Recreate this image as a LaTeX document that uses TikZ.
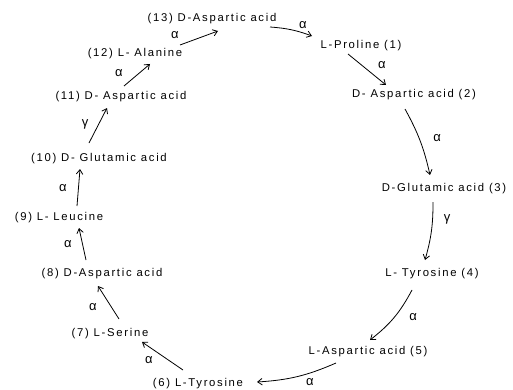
\documentclass[tikz,border=0pt]{standalone}
\usepackage{fontspec}
\setmainfont[LetterSpace=15]{Liberation Sans}
\usetikzlibrary{arrows.meta,calc}
\begin{document}
\begin{tikzpicture}[x=1pt,y=1pt,
  lbl/.style={font=\fontsize{11.3}{13}\selectfont, text height=8pt, text depth=0pt, inner sep=0pt},
  gk/.style={font=\fontsize{13}{15}\selectfont, inner sep=0pt},
  conn/.style={line width=0.8pt, -{Straight Barb[length=4.5pt,width=6.5pt]}}]
\useasboundingbox (0,0) rectangle (513,389);
% nodes
\node[lbl] (n13) at (212,371) {(13) D-Aspartic acid};
\node[lbl] (n1)  at (361,344) {L-Proline (1)};
\node[lbl] (n2)  at (414,295) {D- Aspartic acid (2)};
\node[lbl] (n3)  at (444,202) {D-Glutamic acid (3)};
\node[lbl] (n4)  at (432,117) {L- Tyrosine (4)};
\node[lbl] (n5)  at (368,39)  {L-Aspartic acid (5)};
\node[lbl] (n6)  at (198,7)   {(6) L-Tyrosine};
\node[lbl] (n7)  at (110,57)  {(7) L-Serine};
\node[lbl] (n8)  at (102,117) {(8) D-Aspartic acid};
\node[lbl] (n9)  at (59,173)  {(9) L- Leucine};
\node[lbl] (n10) at (99,232)  {(10) D- Glutamic acid};
\node[lbl] (n11) at (121,294) {(11) D- Aspartic acid};
\node[lbl] (n12) at (135,336) {(12) L- Alanine};
% greek labels
\node[gk] (g13) at (175,354) {α};
\node[gk] (g1)  at (303,364) {α};
\node[gk] (g2)  at (382,324) {α};
\node[gk] (g3)  at (437,251) {α};
\node[gk] (g4)  at (447,170) {γ};
\node[gk] (g5)  at (413,72)  {α};
\node[gk] (g6)  at (310,7)   {α};
\node[gk] (g7)  at (149,29)  {α};
\node[gk] (g8)  at (93,82)   {α};
\node[gk] (g9)  at (68,145)  {α};
\node[gk] (g10) at (63,201)  {α};
\node[gk] (g11) at (85,265)  {γ};
\node[gk] (g12) at (119,316) {α};
% connectors
\draw[conn] ($(n12)+(45,8)$) -- ($(n13)+(6,-13)$);
\draw[conn] ($(n13)+(58,-9)$) to[bend left=8] ($(n1)+(-49,9)$);
\draw[conn] ($(n1)+(-13,-9)$) -- ($(n2)+(-28,9)$);
\draw[conn] ($(n2)+(-9,-15)$) to[bend left=8] ($(n3)+(-14,12)$);
\draw[conn] ($(n3)+(-11,-15)$) to[bend left=8] ($(n4)+(-7,12)$);
\draw[conn] ($(n4)+(-20,-18)$) to[bend left=12] ($(n5)+(2,10)$);
\draw[conn] ($(n5)+(-32,-13)$) to[bend left=10] ($(n6)+(59,0)$);
\draw[conn] ($(n6)+(-15,12)$) -- ($(n7)+(32,-10)$);
\draw[conn] ($(n7)+(9,13)$) -- ($(n8)+(-4,-14)$);
\draw[conn] ($(n8)+(-16,12)$) -- ($(n9)+(20,-12)$);
\draw[conn] ($(n9)+(18,10)$) -- ($(n10)+(-19,-12)$);
\draw[conn] ($(n10)+(-10,14)$) -- ($(n11)+(-14,-13)$);
\draw[conn] ($(n11)+(3,9)$) -- ($(n12)+(15,-11)$);
\end{tikzpicture}
\end{document}
